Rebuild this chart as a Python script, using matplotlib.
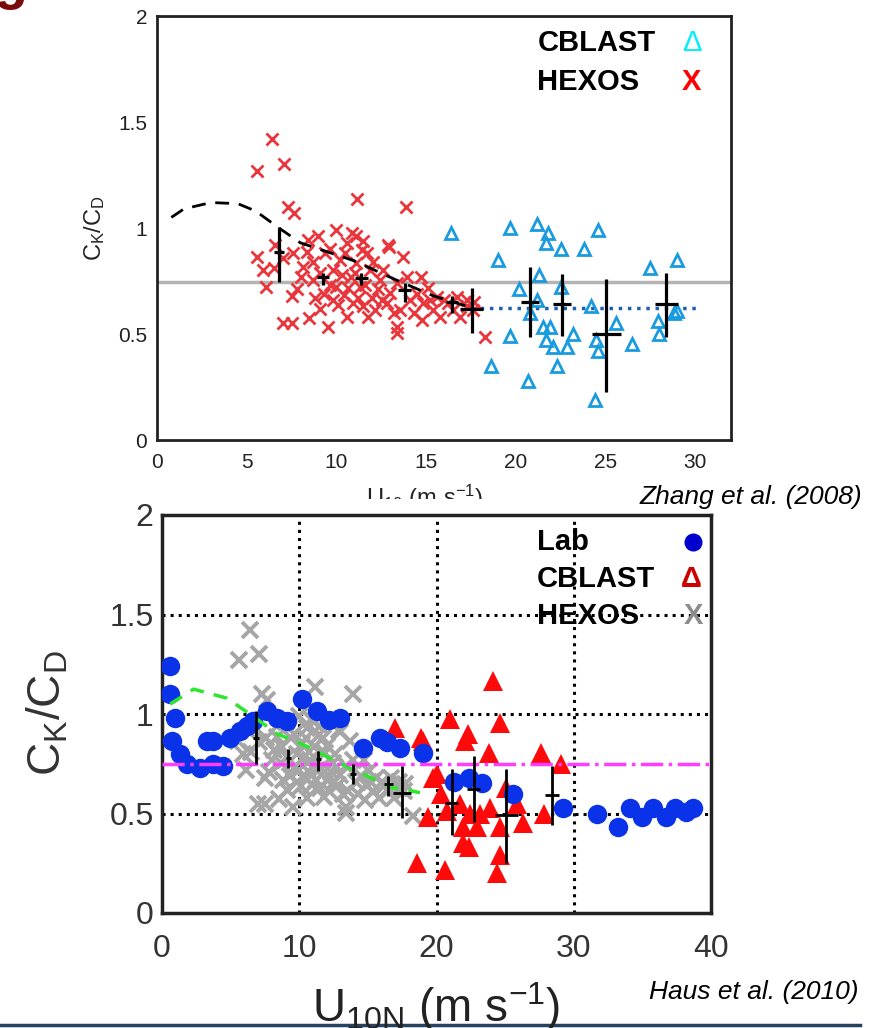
import matplotlib.pyplot as plt
from matplotlib.patches import Rectangle
from matplotlib.lines import Line2D

plt.rcParams['mathtext.default'] = 'regular'

W, H = 880, 1028

# ---------------- Zhang et al. (2008) panel ----------------
# HEXOS (red x)
hexos_u = [6.4, 5.6, 7.1, 7.3, 7.65, 11.15, 13.9, 12.95, 13.7,
           5.56, 5.92, 6.1, 6.6, 7.04, 7.6, 6.5, 7.03, 7.5, 7.5, 7.8, 8.5, 8.35, 8.7, 9.0,
           9.1, 9.55, 9.65, 10.0, 9.8, 10.2, 10.6, 11.1, 11.5, 11.7, 11.1, 10.8, 10.0, 10.4,
           9.8, 10.9, 11.5, 12.0, 12.3, 12.05, 12.9, 12.6, 12.8, 13.2, 13.4, 13.4, 13.55,
           14.1, 14.5, 14.85, 15.1, 15.4, 15.8, 16.0, 16.5, 16.9, 17.3, 17.7, 18.3, 14.7,
           8.0, 8.7, 9.3, 10.6, 11.3,
           8.16, 8.44, 8.81, 9.09, 9.37, 9.65, 10.11, 10.3, 10.49, 10.67, 10.86, 11.04,
           11.23, 11.42, 11.6, 11.79, 11.88, 12.16, 12.44, 12.53, 13.0, 13.37, 13.93,
           14.3, 14.76, 15.23, 15.6, 16.25, 16.7, 17.27, 17.64]
hexos_ck = [1.42, 1.27, 1.30, 1.10, 1.07, 1.135, 1.10, 0.91, 0.865,
            0.864, 0.80, 0.72, 0.92, 0.86, 0.88, 0.81, 0.55, 0.55, 0.68, 0.71, 0.575, 0.885, 0.84, 0.96,
            0.62, 0.535, 0.90, 0.99, 0.80, 0.85, 0.93, 0.96, 0.94, 0.88, 0.835, 0.77, 0.72, 0.685,
            0.66, 0.645, 0.63, 0.67, 0.71, 0.84, 0.92, 0.80, 0.645, 0.60, 0.505, 0.535, 0.615,
            0.66, 0.69, 0.645, 0.715, 0.615, 0.58, 0.66, 0.615, 0.58, 0.63, 0.65, 0.486, 0.77,
            0.77, 0.755, 0.69, 0.58, 0.72,
            0.818, 0.943, 0.668, 0.786, 0.881, 0.731, 0.637, 0.778, 0.881, 0.715, 0.975, 0.786,
            0.668, 0.896, 0.731, 0.582, 0.802, 0.613, 0.755, 0.66, 0.692, 0.739, 0.77,
            0.598, 0.566, 0.66, 0.676, 0.645, 0.676, 0.66, 0.613]

# CBLAST (cyan open triangles)
cblast_u = [16.4, 19.0, 19.7, 21.2, 21.8, 21.7, 22.5, 23.8, 24.6, 27.5, 29.0, 21.3, 20.2,
            22.5, 21.2, 20.8, 24.2, 21.5, 21.9, 21.7, 22.1, 22.85, 23.2, 19.7, 18.6, 20.7,
            22.3, 24.5, 24.6, 25.6, 26.5, 24.4, 27.95, 28.0, 28.8, 29.0]
cblast_ck = [0.975, 0.85, 1.0, 1.02, 0.975, 0.93, 0.90, 0.90, 0.99, 0.81, 0.85, 0.78, 0.71,
             0.72, 0.66, 0.60, 0.63, 0.535, 0.535, 0.47, 0.44, 0.44, 0.50, 0.49, 0.35, 0.28,
             0.35, 0.47, 0.42, 0.55, 0.455, 0.19, 0.56, 0.50, 0.60, 0.61]

# bin averages
bin_u = [6.8, 9.26, 11.4, 13.8, 16.45, 17.55, 20.8, 22.6, 25.04, 28.4]
bin_ck = [0.887, 0.77, 0.764, 0.708, 0.65, 0.62, 0.65, 0.642, 0.50, 0.642]
bin_lo = [0.745, 0.73, 0.73, 0.65, 0.60, 0.505, 0.486, 0.49, 0.226, 0.486]
bin_hi = [1.005, 0.79, 0.79, 0.74, 0.68, 0.717, 0.816, 0.783, 0.76, 0.79]
bin_du = [0.3, 0.35, 0.35, 0.35, 0.35, 0.65, 0.5, 0.5, 0.8, 0.65]

# fitted curve (dashed)
fit_u = [0.8, 1.5, 3.0, 4.5, 5.5, 6.8, 8.0, 11.0, 13.2, 15.4, 17.5]
fit_ck = [1.05, 1.09, 1.12, 1.115, 1.08, 1.0, 0.93, 0.845, 0.76, 0.68, 0.625]

ref_level = 0.745
high_level = 0.625
high_range = [17.5, 30.1]

# ---------------- Haus et al. (2010) panel ----------------
lab_u = [0.58, 0.58, 0.95, 0.73, 1.31, 1.82, 2.77, 3.72, 4.45, 3.30, 3.72, 4.96, 5.69, 6.20,
         6.63, 7.65, 8.40, 9.11, 10.2, 11.3, 12.2, 12.97, 14.65, 15.9, 16.4, 17.35, 19.0,
         21.3, 22.4, 23.3, 25.6, 29.2, 31.7, 33.2, 34.1, 35.0, 35.8, 36.7, 37.4, 38.2, 38.7]
lab_ck = [1.24, 1.10, 0.98, 0.865, 0.80, 0.75, 0.73, 0.75, 0.74, 0.865, 0.865, 0.88, 0.915,
          0.94, 0.965, 1.015, 0.98, 0.965, 1.075, 1.015, 0.97, 0.98, 0.83, 0.88, 0.86, 0.83,
          0.805, 0.66, 0.68, 0.655, 0.60, 0.53, 0.50, 0.43, 0.53, 0.48, 0.53, 0.48, 0.53, 0.51, 0.53]

cb2_u = [24.1, 21.0, 24.6, 18.9, 17.0, 19.0, 22.1, 22.3, 23.8, 27.6, 29.1, 20.0, 20.3, 19.4,
         21.7, 22.45, 23.2, 23.9, 26.3, 27.8, 21.9, 22.95, 24.6, 21.9, 22.4, 24.6, 18.6,
         20.6, 24.4, 25.9, 25.1, 20.8, 19.75]
cb2_ck = [1.165, 0.975, 0.955, 0.88, 0.93, 0.865, 0.865, 0.90, 0.805, 0.805, 0.75, 0.70, 0.60,
          0.48, 0.55, 0.50, 0.50, 0.53, 0.45, 0.50, 0.43, 0.43, 0.43, 0.35, 0.33, 0.29, 0.25,
          0.215, 0.20, 0.55, 0.63, 0.515, 0.68]

bin2_u = [6.85, 9.2, 11.4, 13.9, 16.5, 17.5, 21.1, 22.7, 25.1, 28.4]
bin2_ck = [0.88, 0.78, 0.775, 0.70, 0.65, 0.605, 0.555, 0.625, 0.49, 0.595]
bin2_lo = [0.75, 0.73, 0.715, 0.65, 0.59, 0.475, 0.39, 0.455, 0.25, 0.44]
bin2_hi = [1.015, 0.825, 0.815, 0.75, 0.69, 0.74, 0.725, 0.79, 0.725, 0.74]
bin2_du = [0.2, 0.2, 0.2, 0.2, 0.3, 0.65, 0.5, 0.5, 0.85, 0.5]

fit2_u = [0.6, 2.3, 4.7, 6.4, 8.4, 10.8, 13.0, 14.9, 16.8, 18.8]
fit2_ck = [1.05, 1.125, 1.08, 1.0, 0.90, 0.83, 0.75, 0.69, 0.63, 0.605]

ref2_level = 0.75


def fx(px):
    return px / W


def fy(py):
    return 1 - py / H


fig = plt.figure(figsize=(W / 100, H / 100), dpi=100)

arial = ['Liberation Sans', 'DejaVu Sans']

# ---------------- top panel ----------------
ax1 = fig.add_axes([fx(157), fy(440), fx(731) - fx(157), fy(16) - fy(440)])
ax1.set_zorder(0)
ax1.axhline(ref_level, color='#b4b4b4', lw=2.5, zorder=1)
ax1.plot(high_range, [high_level, high_level], ':', color='#1f5fb0', lw=2.5, zorder=2)
ax1.plot(hexos_u, hexos_ck, 'x', color='#e8363c', ms=8, mew=2, zorder=3)
ax1.plot(cblast_u, cblast_ck, '^', mfc='none', mec='#1a9be0', ms=8.5, mew=2, zorder=3)
ax1.plot(fit_u, fit_ck, '--', color='black', lw=2, dashes=(5, 3.5), zorder=4)
ax1.errorbar(bin_u, bin_ck,
             yerr=[[c - l for c, l in zip(bin_ck, bin_lo)], [h - c for c, h in zip(bin_ck, bin_hi)]],
             xerr=bin_du, fmt='none', ecolor='black', elinewidth=2.3, capsize=0, zorder=5)
ax1.set_xlim(0, 32)
ax1.set_ylim(0, 2)
ax1.set_xticks([0, 5, 10, 15, 20, 25, 30])
ax1.set_yticks([0, 0.5, 1, 1.5, 2])
ax1.set_yticklabels(['0', '0.5', '1', '1.5', '2'])
ax1.tick_params(length=0, labelsize=15, colors='#222222', pad=7)
ax1.tick_params(axis='x', pad=9)
for lab in ax1.get_xticklabels() + ax1.get_yticklabels():
    lab.set_family(arial)
for sp in ax1.spines.values():
    sp.set_linewidth(2)
    sp.set_color('#222222')

# legend of top panel
ax1.text(21.2, 1.873, 'CBLAST', fontsize=21, fontweight='bold', family=arial, va='center')
ax1.text(21.2, 1.689, 'HEXOS', fontsize=21, fontweight='bold', family=arial, va='center')
ax1.text(29.8, 1.873, '\u0394', fontsize=21, family=arial, va='center',
         ha='center', color='#00f0ff')
ax1.text(29.8, 1.689, 'X', fontsize=21, fontweight='bold', family=arial, va='center',
         ha='center', color='#ff0000')

fig.text(fx(95), fy(228), 'C$_K$/C$_D$', rotation=90, fontsize=17, family=arial,
         color='#222222', ha='center', va='center')
fig.text(fx(425), fy(483), 'U$_{10}$ (m s$^{-1}$)', fontsize=17, family=arial,
         color='#222222', ha='center', va='top', zorder=0.2)
# the lower picture hides the bottom of the upper x label
fig.add_artist(Rectangle((fx(300), fy(516)), fx(260), 17 / H, transform=fig.transFigure,
                         facecolor='white', edgecolor='none', zorder=0.5))

# ---------------- bottom panel ----------------
ax2 = fig.add_axes([fx(162), fy(913), fx(711) - fx(162), fy(515) - fy(913)])
ax2.set_zorder(1)
for v in [10, 20, 30]:
    ax2.axvline(v, color='black', ls=':', lw=2.2, zorder=1)
for v in [0.5, 1.0, 1.5]:
    ax2.axhline(v, color='black', ls=':', lw=2.2, zorder=1)
ax2.plot(hexos_u, hexos_ck, 'x', color='#a6a6a6', ms=11, mew=2.8, zorder=2)
ax2.plot(cb2_u, cb2_ck, '^', color='#ff0a0a', ms=15, mew=0, zorder=3)
ax2.plot(lab_u, lab_ck, 'o', color='#0a32e8', ms=14, mew=0, zorder=4)
ax2.plot(fit2_u, fit2_ck, '--', color='#2ee62e', lw=2.5, dashes=(4, 3), zorder=5)
ax2.axhline(ref2_level, color='#ff3cff', lw=2.5, ls='-.', zorder=6)
ax2.errorbar(bin2_u, bin2_ck,
             yerr=[[c - l for c, l in zip(bin2_ck, bin2_lo)], [h - c for c, h in zip(bin2_ck, bin2_hi)]],
             xerr=bin2_du, fmt='none', ecolor='black', elinewidth=2, capsize=0, zorder=7)
ax2.set_xlim(0, 40)
ax2.set_ylim(0, 2)
ax2.set_xticks([0, 10, 20, 30, 40])
ax2.set_yticks([0, 0.5, 1, 1.5, 2])
ax2.set_yticklabels(['0', '0.5', '1', '1.5', '2'])
ax2.tick_params(length=0, labelsize=23, colors='#333333')
ax2.tick_params(axis='y', pad=6)
ax2.tick_params(axis='x', pad=15)
for lab in ax2.get_xticklabels() + ax2.get_yticklabels():
    lab.set_family(arial)
for sp in ax2.spines.values():
    sp.set_linewidth(2.5)
    sp.set_color('#222222')

# legend of bottom panel
ax2.text(27.3, 1.865, 'Lab', fontsize=21, fontweight='bold', family=arial, va='center', zorder=8)
ax2.text(27.3, 1.68, 'CBLAST', fontsize=21, fontweight='bold', family=arial, va='center', zorder=8)
ax2.text(27.3, 1.49, 'HEXOS', fontsize=21, fontweight='bold', family=arial, va='center', zorder=8)
ax2.plot([38.7], [1.865], 'o', color='#0000cc', ms=13, mew=0, zorder=8)
ax2.text(38.6, 1.68, '\u0394', fontsize=21, fontweight='bold', family=arial, va='center',
         ha='center', color='#cc0000', zorder=8)
ax2.text(38.7, 1.49, 'X', fontsize=21, fontweight='bold', family=arial, va='center',
         ha='center', color='#8c8c8c', zorder=8)

fig.text(fx(48), fy(713), 'C$_K$/C$_D$', rotation=90, fontsize=33, family=arial,
         color='#333333', ha='center', va='center')
fig.text(fx(436), fy(1022), 'U$_{10N}$ (m s$^{-1}$)', fontsize=33, family=arial,
         color='#222222', ha='center', va='baseline')

# citations
fig.text(fx(862), fy(497), 'Zhang et al. (2008)', fontsize=19, style='italic', family=arial,
         ha='right', va='center', zorder=3)
fig.text(fx(858), fy(992), 'Haus et al. (2010)', fontsize=19, style='italic', family=arial,
         ha='right', va='center', zorder=3)

# slide remnants: title letter and footer rule
fig.text(fx(-6), fy(-2), 'g', fontsize=40, fontweight='bold', family=arial, color='#7a0a0a',
         va='baseline', ha='left')
fig.add_artist(Line2D([0, fx(860)], [fy(1025), fy(1025)], color='#27425e', lw=2.5,
                      transform=fig.transFigure))

fig.savefig('out.png', dpi=100, facecolor='white')
